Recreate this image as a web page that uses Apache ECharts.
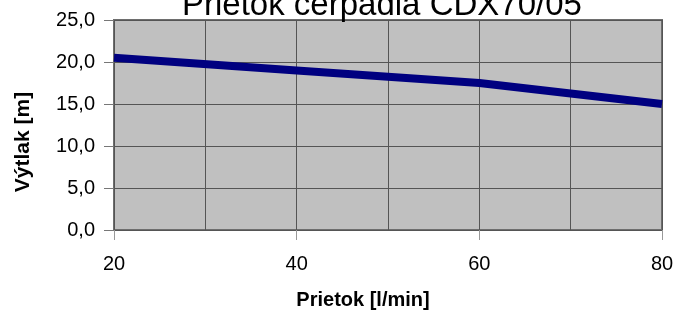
<!DOCTYPE html>
<html>
<head>
<meta charset="utf-8">
<script src="https://cdn.jsdelivr.net/npm/echarts@6/dist/echarts.min.js"></script>
<style>
  html, body { margin: 0; padding: 0; background: #fff; }
  #main { width: 677px; height: 311px; }
</style>
</head>
<body>
<div id="main"></div>
<script>
// prietok [l/min] a vytlak [m]
var prietok = [20, 40, 60, 80];
var vytlak = [20.5, 19.0, 17.5, 15.0];

var chart = echarts.init(document.getElementById('main'));
var font = 'Liberation Sans, Arial, sans-serif';

chart.setOption({
    animation: false,
    title: {
        text: 'Prietok čerpadla CDX70/05',
        left: 177,
        top: -16,
        textStyle: { fontFamily: font, fontSize: 33, fontWeight: 'normal', color: '#000' }
    },
    grid: {
        left: 114, right: 15, top: 20, bottom: 81,
        outerBoundsMode: 'none',
        show: true,
        backgroundColor: '#c0c0c0',
        borderColor: '#6e6e6e',
        borderWidth: 2
    },
    xAxis: {
        type: 'value',
        min: 20, max: 80, interval: 20,
        name: 'Prietok [l/min]',
        nameLocation: 'middle',
        nameGap: 60,
        nameTextStyle: { fontFamily: font, fontSize: 20, fontWeight: 'bold', color: '#000', padding: [0, 50, 0, 0] },
        axisLine: { show: false },
        axisTick: { show: true, length: 10, lineStyle: { color: '#999' } },
        axisLabel: { margin: 24, fontFamily: font, fontSize: 20, color: '#000' },
        splitLine: { show: true, lineStyle: { color: '#555', width: 1 } },
        minorTick: { show: false, splitNumber: 2 },
        minorSplitLine: { show: true, lineStyle: { color: '#555', width: 1 } }
    },
    yAxis: {
        type: 'value',
        min: 0, max: 25, interval: 5,
        name: 'Výtlak [m]',
        nameLocation: 'middle',
        nameGap: 80,
        nameTextStyle: { fontFamily: font, fontSize: 21, fontWeight: 'bold', color: '#000', padding: [0, 34, 0, 0] },
        axisLine: { show: false },
        axisTick: { show: true, length: 10, lineStyle: { color: '#777' } },
        axisLabel: {
            margin: 19, fontFamily: font, fontSize: 20, color: '#000',
            formatter: function (v) { return v.toFixed(1).replace('.', ','); }
        },
        splitLine: { show: true, lineStyle: { color: '#555', width: 1 } }
    },
    series: [{
        type: 'line',
        data: prietok.map(function (x, i) { return [x, vytlak[i]]; }),
        showSymbol: false,
        lineStyle: { color: '#000080', width: 8 }
    }]
});
</script>
</body>
</html>
